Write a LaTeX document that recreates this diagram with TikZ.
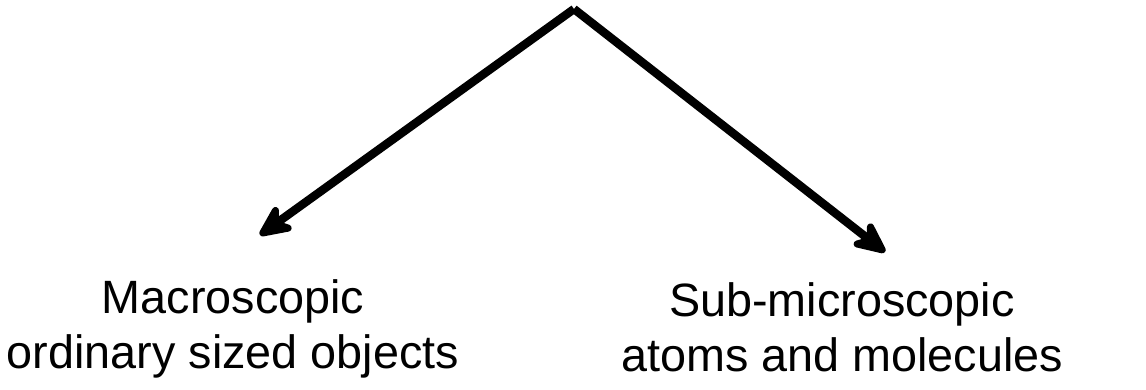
\documentclass[tikz,border=0pt]{standalone}
\usepackage{fontspec}
\setmainfont{Liberation Sans}
\usetikzlibrary{arrows.meta,positioning}

\begin{document}
\begin{tikzpicture}[lbl/.style={align=center,inner sep=0pt,anchor=north,font=\fontsize{13.3}{15.6}\selectfont},
    arr/.style={-{Stealth[length=12pt,width=11pt,inset=4pt,round]},line width=2.4pt,line join=round}]
  \useasboundingbox (0,0) rectangle (11.46,3.89);
  \coordinate (apex) at (5.74,3.80);
  \coordinate (ltip) at (2.60,1.54);
  \coordinate (rtip) at (8.85,1.37);

  \node[lbl] (macro) at (2.33,1.10) {Macroscopic\\ordinary sized objects};
  \node[lbl] (micro) at (8.42,1.07) {Sub-microscopic\\atoms and molecules};

  \draw[arr] (apex) -- (ltip);
  \draw[arr] (apex) -- (rtip);
\end{tikzpicture}
\end{document}
